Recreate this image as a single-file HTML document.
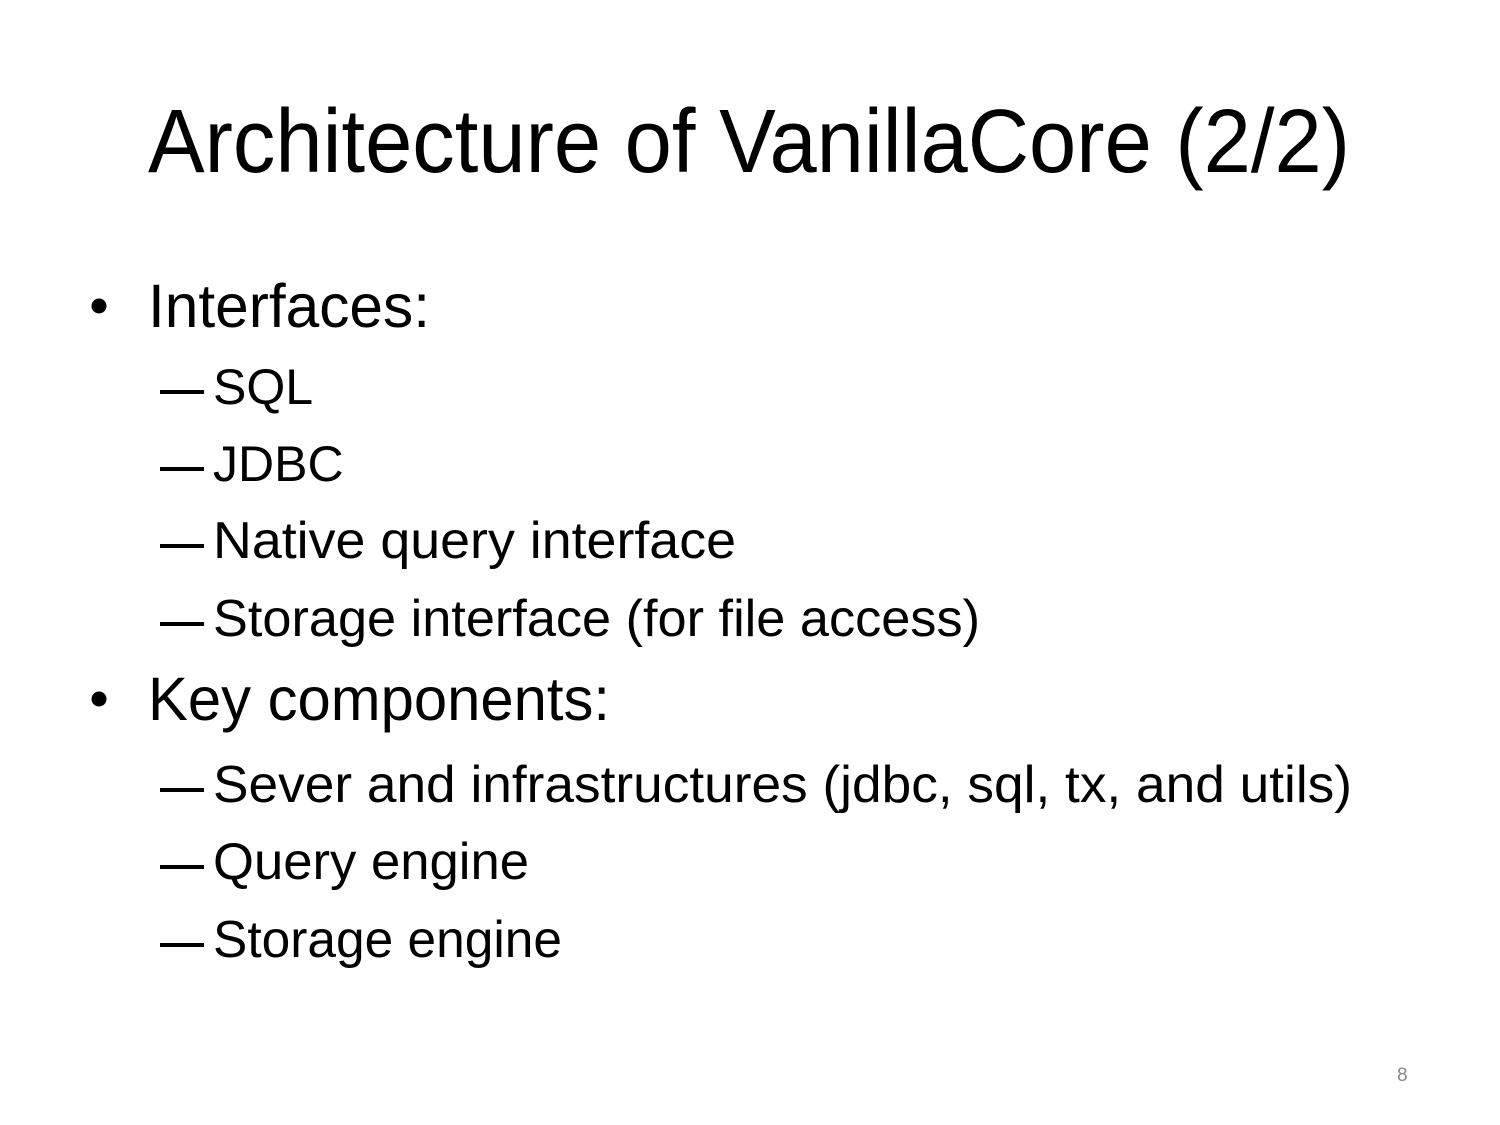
<!DOCTYPE html>
<html><head><meta charset="utf-8"><style>
html,body{margin:0;padding:0;background:#fff;}
svg{display:block}
text{font-family:"Liberation Sans",sans-serif;fill:#000}
</style></head><body>
<svg width="1500" height="1125" viewBox="0 0 1500 1125" xmlns="http://www.w3.org/2000/svg">
<text x="148" y="172" font-size="90" textLength="1202" lengthAdjust="spacingAndGlyphs">Architecture of VanillaCore (2/2)</text>

<circle cx="99" cy="306" r="7.5" fill="#000"/>
<text x="148" y="327" font-size="61" textLength="282" lengthAdjust="spacingAndGlyphs">Interfaces:</text>

<rect x="160" y="390" width="44" height="4" fill="#000"/>
<text x="213" y="404" font-size="50">SQL</text>
<rect x="160" y="467" width="44" height="4" fill="#000"/>
<text x="213" y="481" font-size="50">JDBC</text>
<rect x="160" y="544" width="44" height="4" fill="#000"/>
<text x="213" y="558" font-size="52" textLength="523" lengthAdjust="spacingAndGlyphs">Native query interface</text>
<rect x="160" y="622" width="44" height="4" fill="#000"/>
<text x="213" y="636" font-size="52" textLength="767" lengthAdjust="spacingAndGlyphs">Storage interface (for file access)</text>

<circle cx="99" cy="699" r="7.5" fill="#000"/>
<text x="148" y="720" font-size="61" textLength="462" lengthAdjust="spacingAndGlyphs">Key components:</text>

<rect x="160" y="788" width="44" height="4" fill="#000"/>
<text x="213" y="802" font-size="52" textLength="1139" lengthAdjust="spacingAndGlyphs">Sever and infrastructures (jdbc, sql, tx, and utils)</text>
<rect x="160" y="865" width="44" height="4" fill="#000"/>
<text x="213" y="879" font-size="52" textLength="316" lengthAdjust="spacingAndGlyphs">Query engine</text>
<rect x="160" y="943" width="44" height="4" fill="#000"/>
<text x="213" y="957" font-size="52" textLength="349" lengthAdjust="spacingAndGlyphs">Storage engine</text>

<text x="1397" y="1081" font-size="19" style="fill:#888">8</text>
</svg>
</body></html>
